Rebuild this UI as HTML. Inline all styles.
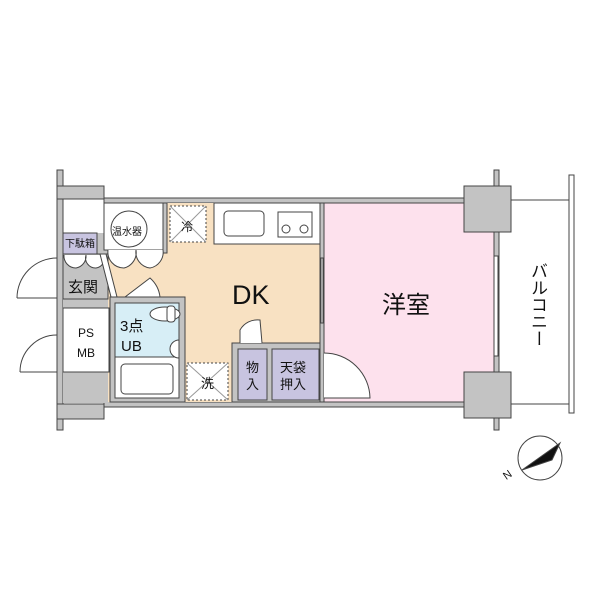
<!DOCTYPE html>
<html><head><meta charset="utf-8"><style>body{margin:0;background:#fff;position:relative}svg{display:block}text{font-family:"Liberation Sans","Noto Sans CJK JP",sans-serif;fill:#111}
.v{position:absolute;left:525px;top:262px;writing-mode:vertical-rl;font:17px "Liberation Sans","Noto Sans CJK JP",sans-serif;color:#111;letter-spacing:0px}</style></head><body>
<svg width="600" height="600" viewBox="0 0 600 600" xmlns="http://www.w3.org/2000/svg">
<g stroke="#444" stroke-width="1">
<rect x="57" y="170" width="6" height="260" fill="#c3c3c3"/>
<rect x="57" y="186" width="47" height="13" fill="#c3c3c3"/>
<rect x="57" y="404" width="47" height="15" fill="#c3c3c3"/>
<rect x="104" y="198" width="390" height="5" fill="#c3c3c3"/>
<rect x="104" y="402" width="390" height="5" fill="#c3c3c3"/>
<rect x="494" y="170" width="5" height="260" fill="#c3c3c3"/>
<line x1="511" y1="200" x2="569" y2="200"/>
<line x1="511" y1="404" x2="569" y2="404"/>
<rect x="569" y="175" width="5" height="238" fill="#fff"/>
<rect x="63" y="233" width="47" height="170" fill="#c3c3c3" stroke="none"/>
<rect x="108" y="203" width="213" height="199" fill="#f8e1c2" stroke="none"/>
<rect x="324" y="203" width="170" height="199" fill="#fde1ed"/>
<rect x="320" y="203" width="4" height="199" fill="#c3c3c3"/>
<rect x="321" y="258" width="2" height="65" fill="#fff"/>
<rect x="494" y="256" width="4" height="100" fill="#fff"/>
<rect x="464" y="186" width="47" height="46" fill="#c3c3c3"/>
<rect x="464" y="372" width="47" height="46" fill="#c3c3c3"/>
<rect x="104" y="203" width="59" height="47" fill="#fff"/>
<circle cx="129" cy="229" r="18" fill="#fff"/>
<rect x="163" y="203" width="4" height="50" fill="#c3c3c3"/>
<path d="M108 250 A16 16 0 0 0 124 268 A16 16 0 0 0 136 250 M136 250 A16 16 0 0 0 150 268 A16 16 0 0 0 163 250" fill="#fff"/>
<rect x="170" y="206" width="36" height="36" fill="#fff" stroke-dasharray="2,2"/>
<line x1="170" y1="206" x2="206" y2="242" stroke="#999"/><line x1="206" y1="206" x2="170" y2="242" stroke="#999"/>
<rect x="214" y="203" width="106" height="41" fill="#fff"/>
<rect x="224" y="211" width="40" height="25" rx="4" fill="#fff"/>
<rect x="278" y="212" width="34" height="25" fill="#fff"/>
<circle cx="286" cy="229" r="4" fill="#fff"/><circle cx="304" cy="229" r="4" fill="#fff"/>
<rect x="63" y="254" width="45" height="45" fill="#c3c3c3"/>
<path d="M64 255 A12 12 0 0 0 76 268 A12 12 0 0 0 86 255 A10 10 0 0 0 96 268 A10 10 0 0 0 104 255" fill="#fff"/>
<polygon points="100,254 106,254 117,297 111,297" fill="#fff"/>
<rect x="63" y="233" width="34" height="21" fill="#c8c4e0"/>
<path d="M57 298 L17 298 M57 258 A40 40 0 0 0 17 298" fill="none"/>
<path d="M57 372 L20 372 M57 335 A37 37 0 0 0 20 372" fill="none"/>
<rect x="63" y="308" width="46" height="64" fill="#fff"/>
<path d="M125 297 L150 278 A30 30 0 0 1 160 297 Z" fill="#fff"/>
<rect x="110" y="297" width="75" height="105" fill="#c3c3c3"/>
<rect x="115" y="303" width="64" height="54" fill="#d7eef6"/>
<rect x="115" y="357" width="64" height="41" fill="#fff"/>
<rect x="121" y="364" width="52" height="30" rx="4" fill="#fff"/>
<ellipse cx="165" cy="314" rx="15" ry="7" fill="#fff"/>
<rect x="167" y="306" width="8" height="16" rx="3" fill="#fff"/>
<path d="M179 340 A9 9 0 0 0 179 358 Z" fill="#fff"/>
<rect x="187" y="363" width="41" height="37" fill="#fff" stroke-dasharray="2,2"/>
<line x1="187" y1="363" x2="228" y2="400" stroke="#999"/><line x1="228" y1="363" x2="187" y2="400" stroke="#999"/>
<rect x="232" y="343" width="88" height="59" fill="#c3c3c3"/>
<rect x="238" y="349" width="29" height="51" fill="#c8c4e0"/>
<rect x="272" y="349" width="47" height="51" fill="#c8c4e0"/>
<path d="M240 343 L240 330 A20 20 0 0 1 260 320 L262 343" fill="#fff"/>
<path d="M324 353 A46 46 0 0 1 370 398 L324 398" fill="#fff"/>
<circle cx="540" cy="458" r="22" fill="#fff"/>
<path d="M522 470 L560 443 L552 460 Z" fill="#111"/>
</g>
<text x="65" y="247" font-size="10">下駄箱</text>
<text x="68" y="292" font-size="15">玄関</text>
<text x="78" y="337" font-size="12">PS</text>
<text x="77" y="357" font-size="12">MB</text>
<text x="112" y="235" font-size="10">温水器</text>
<text x="181" y="231" font-size="12">冷</text>
<text x="120" y="331" font-size="15">3点</text>
<text x="121" y="351" font-size="15">UB</text>
<text x="201" y="388" font-size="13">洗</text>
<text x="246" y="372" font-size="13">物</text>
<text x="246" y="389" font-size="13">入</text>
<text x="280" y="372" font-size="13">天袋</text>
<text x="280" y="389" font-size="13">押入</text>
<text x="232" y="304" font-size="27">DK</text>
<text x="382" y="313" font-size="24">洋室</text>
<text x="503" y="478" font-size="11" transform="rotate(-35 508 474)">N</text>
</svg>
<div class="v">バルコニー</div>
</body></html>
